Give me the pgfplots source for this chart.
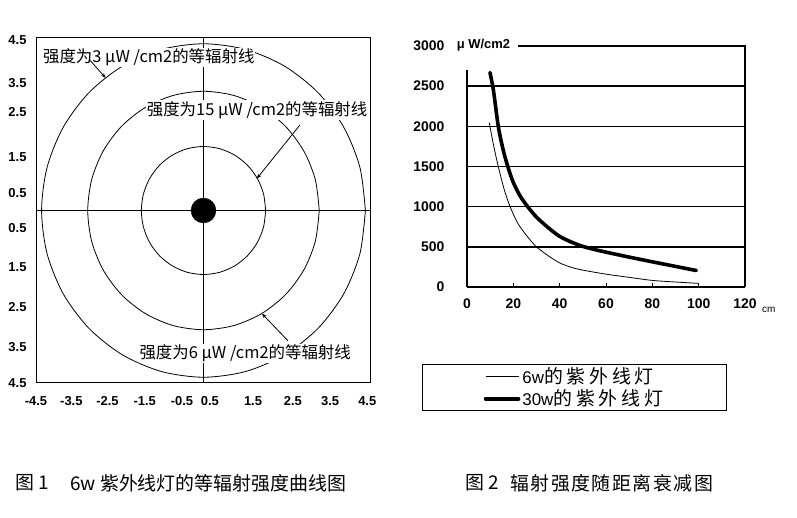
\documentclass[border=0pt]{standalone}
\usepackage{fontspec}
\setmainfont{Liberation Sans}
\newfontfamily\cjk{Noto Sans CJK SC}
\newfontfamily\cjkls[LetterSpace=20]{Noto Sans CJK SC}
\newfontfamily\cjkcap[LetterSpace=8]{Noto Sans CJK SC}
\usepackage{pgfplots}
\pgfplotsset{compat=1.18}
\usetikzlibrary{arrows.meta}

\begin{document}
\begin{tikzpicture}
\useasboundingbox (0,0) rectangle (797bp,518bp);

% ---- left: iso-irradiance circles of the 6 W lamp ----
\begin{axis}[
    at={(36bp,135bp)}, anchor=south west,
    scale only axis, width=335bp, height=345bp,
    xmin=-4.5, xmax=4.5, ymin=-4.5, ymax=4.5,
    clip=false,
    axis line style={line width=1bp},
    major tick length=0pt,
    xtick={-4.5,-3.55,-2.58,-1.58,-0.58,0.17,1.33,2.4,3.4,4.4},
    xticklabels={-4.5,-3.5,-2.5,-1.5,-0.5,0.5,1.5,2.5,3.5,4.5},
    ytick={-4.5,-3.56,-2.52,-1.47,-0.46,0.46,1.40,2.57,3.33,4.45},
    yticklabels={4.5,3.5,2.5,1.5,0.5,0.5,1.5,2.5,3.5,4.5},
    ticklabel style={font=\bfseries\fontsize{13}{13}\selectfont},
    xticklabel style={yshift=-10bp},
    yticklabel style={xshift=-6bp},
]
% cross
\addplot[black, line width=1bp] coordinates {(-4.5,0) (4.5,0)};
\addplot[black, line width=1bp] coordinates {(0,-4.5) (0,4.5)};
% inner circle (15 uW/cm2)
\addplot[black, line width=0.8bp, smooth] coordinates {
 (1.67,0) (1.613,0.432) (1.446,0.835) (1.181,1.181) (0.835,1.446) (0.432,1.613)
 (0,1.67) (-0.432,1.613) (-0.835,1.446) (-1.181,1.181) (-1.446,0.835) (-1.613,0.432)
 (-1.67,0) (-1.613,-0.432) (-1.446,-0.835) (-1.181,-1.181) (-0.835,-1.446) (-0.432,-1.613)
 (0,-1.67) (0.432,-1.613) (0.835,-1.446) (1.181,-1.181) (1.446,-0.835) (1.613,-0.432) (1.67,0)};
% middle circle (6 uW/cm2)
\addplot[black, line width=0.8bp, smooth] coordinates {
 (3.11,0) (3.004,0.805) (2.693,1.555) (2.199,2.199) (1.555,2.693) (0.805,3.004)
 (0,3.11) (-0.805,3.004) (-1.555,2.693) (-2.199,2.199) (-2.693,1.555) (-3.004,0.805)
 (-3.11,0) (-3.004,-0.805) (-2.693,-1.555) (-2.199,-2.199) (-1.555,-2.693) (-0.805,-3.004)
 (0,-3.11) (0.805,-3.004) (1.555,-2.693) (2.199,-2.199) (2.693,-1.555) (3.004,-0.805) (3.11,0)};
% outer circle (3 uW/cm2)
\addplot[black, line width=0.8bp, smooth] coordinates {
 (4.35,0) (4.202,1.126) (3.767,2.175) (3.076,3.076) (2.175,3.767) (1.126,4.202)
 (0,4.35) (-1.126,4.202) (-2.175,3.767) (-3.076,3.076) (-3.767,2.175) (-4.202,1.126)
 (-4.35,0) (-4.202,-1.126) (-3.767,-2.175) (-3.076,-3.076) (-2.175,-3.767) (-1.126,-4.202)
 (0,-4.35) (1.126,-4.202) (2.175,-3.767) (3.076,-3.076) (3.767,-2.175) (4.202,-1.126) (4.35,0)};
% lamp
\addplot[only marks, mark=*, mark size=12.5pt, black] coordinates {(0,0)};

\node[fill=white, inner sep=1bp, font=\cjk\fontsize{16.5}{16.5}\selectfont] at (axis cs:-1.47,4.0) {强度为3 μW /cm2的等辐射线};
\node[fill=white, inner sep=1bp, font=\cjk\fontsize{16.5}{16.5}\selectfont] at (axis cs:1.44,2.62) {强度为15 μW /cm2的等辐射线};
\node[fill=white, inner sep=1bp, font=\cjk\fontsize{16.5}{16.5}\selectfont] at (axis cs:1.12,-3.72) {强度为6 μW /cm2的等辐射线};
\draw[-{Stealth[length=5bp]}, line width=0.8bp] (axis cs:-3.05,3.92) -- (axis cs:-2.63,3.46);
\draw[-{Stealth[length=5bp]}, line width=0.8bp] (axis cs:2.59,2.23) -- (axis cs:1.43,0.83);
\draw[-{Stealth[length=5bp]}, line width=0.8bp] (axis cs:2.27,-3.40) -- (axis cs:1.57,-2.69);
\end{axis}

% ---- right: irradiance vs distance ----
\begin{axis}[
    at={(467bp,231bp)}, anchor=south west,
    scale only axis, width=278bp, height=241bp,
    xmin=0, xmax=120, ymin=0, ymax=3000,
    clip=false,
    axis line style={draw=none},
    xtick={0,20,40,60,80,100,120},
    xticklabels={0,20,40,60,80,100,120},
    ytick={0,500,1000,1500,2000,2500,3000},
    yticklabels={0,500,1000,1500,2000,2500,3000},
    xtick pos=lower, tick align=inside, major tick length=4bp,
    xtick style={black, line width=0.8bp},
    ytick style={draw=none},
    ticklabel style={font=\bfseries\fontsize{14}{14}\selectfont},
    xticklabel style={yshift=-8bp},
    yticklabel style={xshift=-19bp},
    legend style={at={(axis description cs:0.3867,-0.417)}, anchor=center,
        draw=black, line width=1bp, inner xsep=61bp, inner ysep=2bp,
        row sep=3bp, nodes={inner ysep=1bp},
        font=\fontsize{19}{19}\selectfont},
    legend cell align=left,
    legend image code/.code={\draw[#1] (0bp,0bp) -- (33bp,0bp);},
]
% frame and grid
\addplot[black, line width=1.3bp, forget plot] coordinates {(0,0) (0,2700)};
\addplot[black, line width=1.3bp, forget plot] coordinates {(0,0) (120,0)};
\addplot[black, line width=1.3bp, forget plot] coordinates {(22,3000) (120,3000) (120,0)};
\addplot[black, line width=1.5bp, forget plot] coordinates {(0,500) (120,500)};
\addplot[black, line width=1.5bp, forget plot] coordinates {(0,1000) (120,1000)};
\addplot[black, line width=1.5bp, forget plot] coordinates {(0,1500) (120,1500)};
\addplot[black, line width=1.5bp, forget plot] coordinates {(0,2000) (120,2000)};
\addplot[black, line width=1.5bp, forget plot] coordinates {(0,2500) (120,2500)};

% 6 W lamp
\addplot[black, line width=0.8bp, smooth] coordinates {
 (9.6,2046) (11.5,1760) (13.5,1500) (16,1220) (18.6,1000) (22,790) (26,630)
 (30,500) (35,390) (40,300) (45,245) (50,210) (60,160) (70,120) (80,82)
 (90,62) (100,45)};
\addlegendentry{{\fontsize{17}{17}\selectfont 6w}{\cjkls 的紫外线灯}}
% 30 W lamp
\addplot[black, line width=3.6bp, line cap=round, smooth] coordinates {
 (9.9,2670) (11.4,2450) (13.5,2000) (15.5,1720) (17.6,1500) (20,1300) (23,1130)
 (26.2,1000) (30,870) (35,740) (40,630) (45,560) (50,505) (56,460) (63,415)
 (70,372) (77.5,328) (85,285) (92,245) (99,205)};
\addlegendentry{{\fontsize{17}{17}\selectfont 30w}{\cjkls 的紫外线灯}}

\node[inner sep=1bp, font=\bfseries\fontsize{13}{13}\selectfont] at (axis cs:7.1,3010) {μ W/cm2};
\end{axis}

\node[anchor=west, inner sep=0pt, font=\fontsize{10}{10}\selectfont] at (762bp,208bp) {cm};

% captions
\node[anchor=west, inner sep=0pt, font=\cjk\fontsize{19}{19}\selectfont] at (15bp,35bp) {图 1};
\node[anchor=west, inner sep=0pt, font=\cjk\fontsize{19}{19}\selectfont] at (70bp,35bp) {6w 紫外线灯的等辐射强度曲线图};
\node[anchor=west, inner sep=0pt, font=\cjk\fontsize{19}{19}\selectfont] at (465bp,35bp) {图 2};
\node[anchor=west, inner sep=0pt, font=\cjkcap\fontsize{19}{19}\selectfont] at (510bp,35bp) {辐射强度随距离衰减图};
\end{tikzpicture}
\end{document}
